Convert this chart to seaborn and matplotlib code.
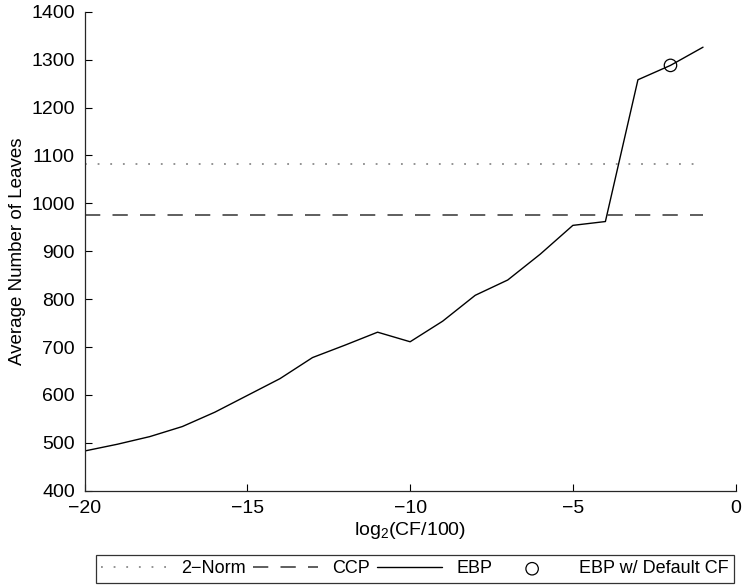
import matplotlib
matplotlib.use("Agg")
import matplotlib.pyplot as plt
import seaborn as sns
import pandas as pd

# Data
log_cf = [-20, -19, -18, -17, -16, -15, -14, -13, -12, -11, -10,
          -9, -8, -7, -6, -5, -4, -3, -2, -1]
ebp_leaves = [483, 497, 513, 534, 564, 599, 634, 678, 704, 731, 711,
              754, 808, 840, 894, 954, 962, 1258, 1288, 1326]
norm2_leaves = 1082
ccp_leaves = 975
default_cf_x = [-2]
default_cf_y = [1288]
x_ticks = [-20, -15, -10, -5, 0]
y_ticks = [400, 500, 600, 700, 800, 900, 1000, 1100, 1200, 1300, 1400]

sns.set_style("ticks")
plt.rcParams['font.family'] = ['Liberation Sans', 'DejaVu Sans']
plt.rcParams['mathtext.fontset'] = 'custom'
plt.rcParams['mathtext.rm'] = 'Liberation Sans'
plt.rcParams['mathtext.it'] = 'Liberation Sans'
plt.rcParams['text.color'] = 'black'
plt.rcParams['axes.labelcolor'] = 'black'
plt.rcParams['xtick.color'] = 'black'
plt.rcParams['ytick.color'] = 'black'

fig = plt.figure(figsize=(7.43, 5.87), dpi=100)
ax = fig.add_axes([0.114, 0.164, 0.876, 0.816])

df = pd.DataFrame({
    "x": log_cf,
    "ebp": ebp_leaves,
    "norm2": [norm2_leaves] * len(log_cf),
    "ccp": [ccp_leaves] * len(log_cf),
})

sns.lineplot(data=df, x="x", y="norm2", ax=ax, color="#8a8a8a", lw=1.3,
             linestyle=(0, (1, 6)), label="2\u2212Norm")
sns.lineplot(data=df, x="x", y="ccp", ax=ax, color="#333333", lw=1.1,
             linestyle=(0, (10, 8)), label="CCP")
sns.lineplot(data=df, x="x", y="ebp", ax=ax, color="black", lw=1.0,
             label="EBP")
sns.scatterplot(x=default_cf_x, y=default_cf_y, ax=ax, marker="o",
                s=80, facecolor="none", edgecolor="black", linewidth=0.9,
                label="EBP w/ Default CF", zorder=5)

ax.set_xlim(-20, 0)
ax.set_ylim(400, 1400)
ax.set_xticks(x_ticks)
ax.set_xticklabels([("\u2212%d" % -t) if t < 0 else str(t) for t in x_ticks])
ax.set_yticks(y_ticks)
ax.tick_params(direction="in", length=5, width=0.8, labelsize=14, pad=7)
for s in ["top", "right"]:
    ax.spines[s].set_visible(False)
for s in ["left", "bottom"]:
    ax.spines[s].set_linewidth(0.9)
ax.set_xlabel(r"log$_2$(CF/100)", fontsize=14, labelpad=2)
ax.set_ylabel("Average Number of Leaves", fontsize=13.5, labelpad=4)

ax.get_legend().remove()
h, l = ax.get_legend_handles_labels()
leg = fig.legend(h, l, loc="center", bbox_to_anchor=(0.5585, 0.0307),
                 ncol=4, frameon=True, fontsize=13, handlelength=3.6,
                 columnspacing=0.4, handletextpad=0.8, borderpad=0.3,
                 fancybox=False, edgecolor="black")
leg.get_frame().set_linewidth(0.9)

fig.savefig("out.png", dpi=100)
